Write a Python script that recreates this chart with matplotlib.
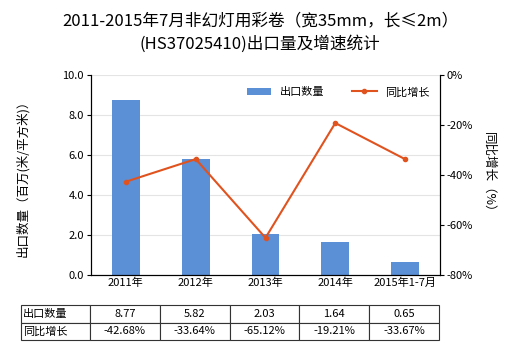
import matplotlib
matplotlib.use("Agg")
import matplotlib.pyplot as plt
import numpy as np

plt.rcParams['font.family'] = ['Noto Sans CJK SC', 'DejaVu Sans']

categories = ["2011年", "2012年", "2013年", "2014年", "2015年1-7月"]
export_qty = [8.77, 5.82, 2.03, 1.64, 0.65]
growth = [-42.68, -33.64, -65.12, -19.21, -33.67]
qty_labels = ["8.77", "5.82", "2.03", "1.64", "0.65"]
growth_labels = ["-42.68%", "-33.64%", "-65.12%", "-19.21%", "-33.67%"]

bar_color = "#5b8fd6"
line_color = "#e0531f"

fig = plt.figure(figsize=(5.2, 3.5), dpi=100)
ax = fig.add_axes([91 / 520, 75 / 350, 349 / 520, 200 / 350])
ax2 = ax.twinx()

x = np.arange(len(categories))
ax.bar(x, export_qty, width=0.4, color=bar_color, label="出口数量", zorder=2)
ax2.plot(x, growth, color=line_color, marker="o", markersize=3, lw=1.5, label="同比增长", zorder=3)

ax.set_xlim(-0.5, len(categories) - 0.5)
ax.set_ylim(0, 10)
ax.set_yticks(np.arange(0, 10.1, 2))
ax.set_yticklabels([f"{v:.1f}" for v in np.arange(0, 10.1, 2)], fontsize=8)
ax2.set_ylim(-80, 0)
ax2.set_yticks(np.arange(-80, 1, 20))
ax2.set_yticklabels([f"{v}%" for v in range(-80, 1, 20)], fontsize=8)
ax.set_xticks(x)
ax.set_xticklabels(categories, fontsize=8)
ax.grid(axis="y", color="#e4e4e4", lw=0.8, zorder=0)
ax.set_axisbelow(True)

for a in (ax, ax2):
    a.spines["top"].set_visible(False)
    a.tick_params(length=3, width=0.8, pad=2)
ax.tick_params(axis="x", length=0)

ax.set_ylabel("出口数量（百万(米/平方米)）", fontsize=9, labelpad=24)
ax2.set_ylabel("同比增长（%）", fontsize=9, rotation=270, labelpad=16)

fig.suptitle("2011-2015年7月非幻灯用彩卷（宽35mm，长≤2m）\n(HS37025410)出口量及增速统计",
             fontsize=12, y=0.965, linespacing=1.45)

h1, l1 = ax.get_legend_handles_labels()
h2, l2 = ax2.get_legend_handles_labels()
ax.legend(h1 + h2, l1 + l2, loc="upper right", bbox_to_anchor=(1.0, 0.99), ncol=2,
          frameon=False, fontsize=8, handlelength=2.2, columnspacing=2.5)

cell_text = [["出口数量"] + qty_labels, ["同比增长"] + growth_labels]
tbl = ax.table(cellText=cell_text, cellLoc="center",
               bbox=[-70 / 349, -1.0 * (340 - 275) / 200, 418 / 349, 35 / 200],
               colWidths=[69] + [70] * 5)
tbl.auto_set_font_size(False)
for (r, c), cell in tbl.get_celld().items():
    cell.set_fontsize(8)
    cell.set_edgecolor("#333333")
    cell.set_linewidth(0.8)
    if c == 0:
        cell.get_text().set_ha("left")
        cell.PAD = 0.03

plt.savefig("out.png", dpi=100)
